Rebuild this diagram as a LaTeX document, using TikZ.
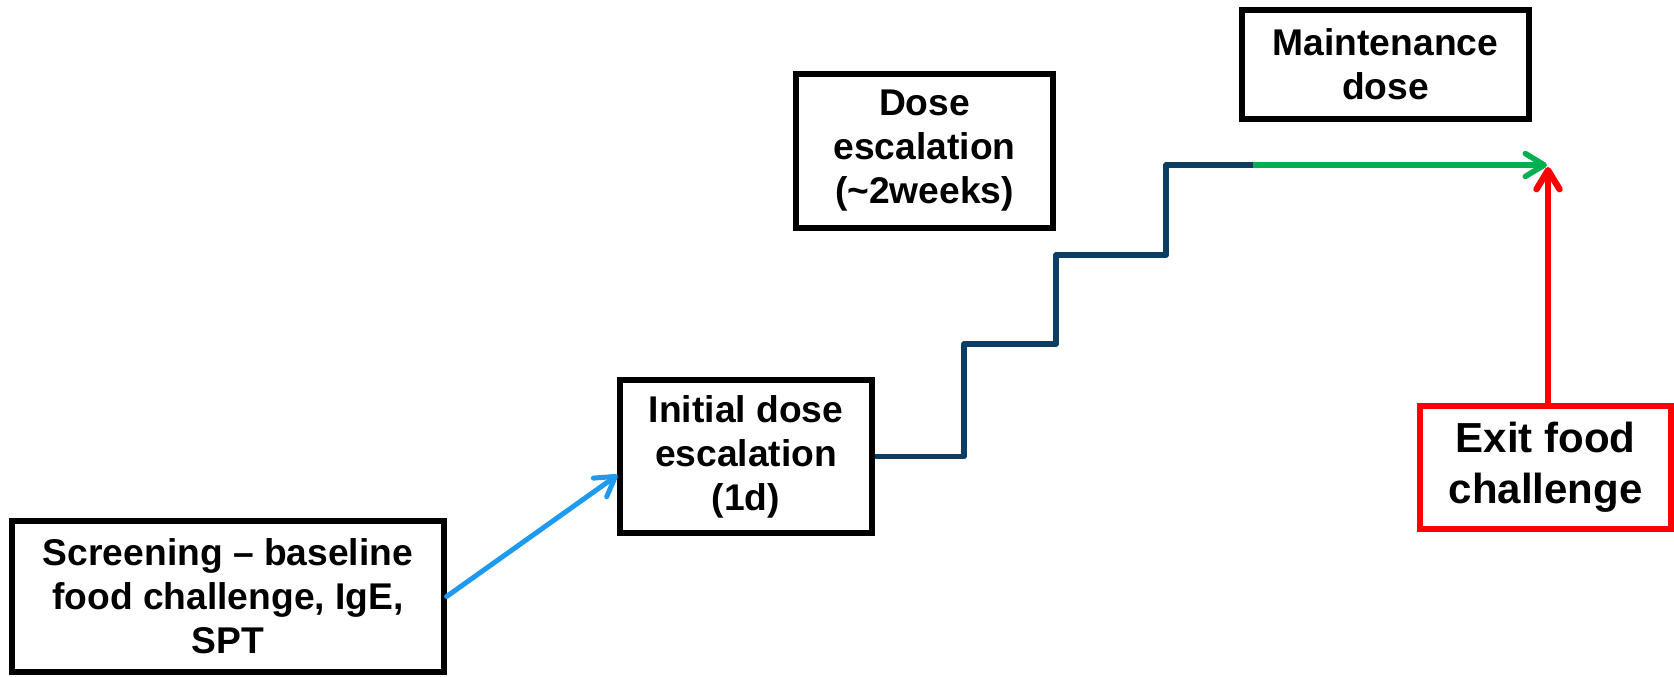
\documentclass[tikz,border=0pt]{standalone}
\usepackage{fontspec}
\setmainfont{Liberation Sans}
\usetikzlibrary{arrows.meta}
\definecolor{arrblue}{RGB}{30,155,240}
\definecolor{stairblue}{RGB}{12,62,100}
\definecolor{mgreen}{RGB}{0,176,80}
\definecolor{mred}{RGB}{255,0,0}
\begin{document}
\begin{tikzpicture}[x=0.5pt,y=-0.5pt,
  box/.style={draw=black, line width=2.6pt, inner sep=0pt, align=center,
    font=\fontsize{18.6pt}{22pt}\selectfont\bfseries},
  redbox/.style={box, draw=mred, line width=3pt,
    font=\fontsize{21pt}{25.5pt}\selectfont\bfseries},
  barb/.style={-{Straight Barb[length=9.5pt,width=11.5pt,round]}},
  bluearrow/.style={barb, draw=arrblue, line width=2.5pt, line cap=round},
  stairline/.style={draw=stairblue, line width=2.75pt, line join=round},
  greenarrow/.style={barb, draw=mgreen, line width=2.75pt},
  redarrow/.style={barb, draw=mred, line width=3.2pt}]
\useasboundingbox (0,0) rectangle (1674,676);

\node[box, minimum width=216pt, minimum height=75.5pt] (screen) at (228,596.5)
  {Screening – baseline\\food challenge, IgE,\\SPT};
\node[box, minimum width=126pt, minimum height=76.5pt] (init) at (746,456.5)
  {Initial dose\\escalation\\(1d)};
\node[box, minimum width=128.5pt, minimum height=77pt] (dose) at (924.5,151)
  {Dose\\escalation\\(\char`~2weeks)};
\node[box, minimum width=143.5pt, minimum height=54.5pt] (maint) at (1385.5,64.5)
  {Maintenance\\dose};
\node[redbox, minimum width=125.5pt, minimum height=61.5pt] (exit) at (1545.5,467.5)
  {Exit food\\challenge};

\coordinate (bluetip) at (617.5,475);
\coordinate (s1) at (964,456.5);
\coordinate (s2) at (964,344);
\coordinate (s3) at (1056,344);
\coordinate (s4) at (1056,255);
\coordinate (s5) at (1166,255);
\coordinate (s6) at (1166,165);
\coordinate (s7) at (1253,165);
\coordinate (meet) at (1547,165);
\coordinate (redtip) at (1548,167);

\draw[bluearrow] (screen.east) -- (bluetip);
\draw[stairline] (init.east) -- (s1) -- (s2) -- (s3) -- (s4) -- (s5) -- (s6) -- (s7);
\draw[greenarrow] (s7) -- (meet);
\draw[redarrow] (exit.north -| redtip) -- (redtip);
\end{tikzpicture}
\end{document}
